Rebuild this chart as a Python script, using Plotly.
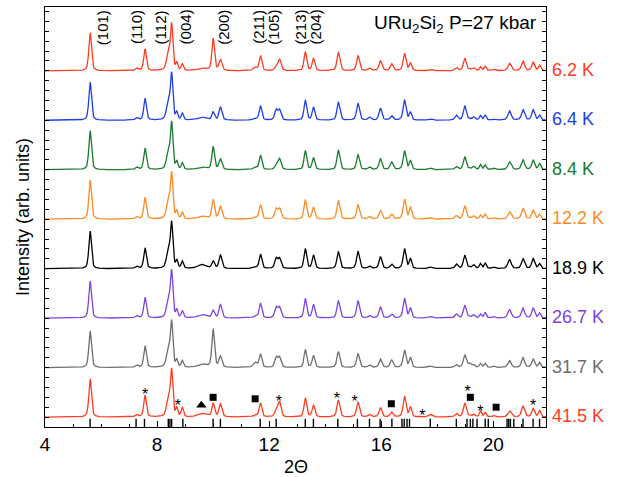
import numpy as np
import plotly.graph_objects as go

# ---- data ----
temps = ["6.2 K", "6.4 K", "8.4 K", "12.2 K", "18.9 K", "26.7 K", "31.7 K", "41.5 K"]
colors = ["#ff3b1f", "#1f3fe6", "#1a7a30", "#ff8a24", "#000000", "#7c44e0", "#6e6e6e", "#ff3b1f"]

# peak positions (2Theta) and widths (FWHM)
peak_pos = [5.61, 7.27, 7.57, 8.40, 8.52, 8.70, 8.90, 9.60, 10.00, 10.26, 11.50, 11.69,
            12.25, 12.37, 13.29, 13.58, 14.47, 15.17, 15.58, 15.97, 16.37, 16.83, 17.04,
            17.75, 18.68, 18.98, 19.15, 19.30, 19.54, 19.71, 20.01, 20.58, 21.06, 21.42, 21.65]
peak_fwhm = [0.11, 0.12, 0.11, 0.14, 0.10, 0.08, 0.09, 0.35, 0.11, 0.12, 0.16, 0.11,
             0.12, 0.12, 0.11, 0.11, 0.12, 0.12, 0.12, 0.12, 0.12, 0.12, 0.10,
             0.16, 0.12, 0.12, 0.14, 0.11, 0.09, 0.09, 0.14, 0.14, 0.13, 0.12, 0.10]

# peak heights for each temperature (same order as peak_pos)
h_6_2K = [0.77, 0.05, 0.44, 0.38, 0.90, 0.15, 0.13, 0.05, 0.65, 0.21, 0.06, 0.30,
          0.08, 0.23, 0.38, 0.25, 0.37, 0.30, 0.05, 0.20, 0.14, 0.35, 0.15,
          0.03, 0.06, 0.25, 0.02, 0.06, 0.08, 0.09, 0.03, 0.15, 0.19, 0.17, 0.11]
h_6_4K = [0.77, 0.05, 0.44, 0.40, 0.90, 0.15, 0.13, 0.06, 0.16, 0.26, 0.03, 0.29,
          0.20, 0.20, 0.40, 0.26, 0.36, 0.34, 0.06, 0.24, 0.09, 0.41, 0.16,
          0.03, 0.10, 0.29, 0.02, 0.06, 0.09, 0.10, 0.02, 0.19, 0.21, 0.21, 0.10]
h_8_4K = [0.79, 0.05, 0.44, 0.38, 0.91, 0.15, 0.13, 0.05, 0.46, 0.21, 0.05, 0.29,
          0.08, 0.22, 0.38, 0.24, 0.39, 0.30, 0.05, 0.22, 0.15, 0.38, 0.18,
          0.03, 0.06, 0.26, 0.02, 0.06, 0.10, 0.09, 0.03, 0.16, 0.20, 0.19, 0.12]
h_12_2K = [0.79, 0.05, 0.44, 0.40, 0.89, 0.15, 0.13, 0.06, 0.39, 0.25, 0.04, 0.29,
           0.20, 0.20, 0.39, 0.24, 0.37, 0.29, 0.05, 0.18, 0.10, 0.40, 0.24,
           0.03, 0.07, 0.27, 0.02, 0.06, 0.08, 0.10, 0.03, 0.15, 0.22, 0.18, 0.10]
h_18_9K = [0.76, 0.05, 0.42, 0.40, 0.89, 0.15, 0.14, 0.08, 0.15, 0.27, 0.03, 0.29,
           0.20, 0.20, 0.40, 0.27, 0.34, 0.35, 0.05, 0.24, 0.09, 0.40, 0.20,
           0.03, 0.09, 0.27, 0.02, 0.07, 0.10, 0.11, 0.03, 0.18, 0.20, 0.20, 0.10]
h_26_7K = [0.75, 0.05, 0.42, 0.40, 0.91, 0.15, 0.14, 0.07, 0.15, 0.27, 0.03, 0.30,
           0.21, 0.21, 0.39, 0.27, 0.35, 0.35, 0.05, 0.22, 0.08, 0.40, 0.20,
           0.03, 0.08, 0.26, 0.02, 0.06, 0.08, 0.11, 0.03, 0.17, 0.20, 0.20, 0.10]
h_31_7K = [0.74, 0.05, 0.44, 0.40, 0.89, 0.14, 0.13, 0.07, 0.77, 0.22, 0.10, 0.27,
           0.20, 0.20, 0.36, 0.24, 0.32, 0.28, 0.05, 0.17, 0.15, 0.35, 0.20,
           0.03, 0.06, 0.25, 0.08, 0.05, 0.08, 0.08, 0.03, 0.14, 0.20, 0.17, 0.10]
h_41_5K = [0.77, 0.05, 0.44, 0.40, 0.91, 0.17, 0.19, 0.07, 0.27, 0.26, 0.04, 0.28,
           0.13, 0.30, 0.38, 0.24, 0.34, 0.30, 0.05, 0.19, 0.10, 0.42, 0.20,
           0.05, 0.07, 0.28, 0.02, 0.05, 0.12, 0.09, 0.03, 0.12, 0.22, 0.17, 0.13]
heights = [h_6_2K, h_6_4K, h_8_4K, h_12_2K, h_18_9K, h_26_7K, h_31_7K, h_41_5K]
offsets = [7, 6, 5, 4, 3, 2, 1, 0]

# calculated reflection positions (tick marks under the lowest pattern)
bragg_pos = [5.61, 7.25, 7.55, 8.40, 8.46, 8.52, 8.92, 10.0, 10.26, 11.68, 12.25, 13.29,
             13.58, 14.45, 15.15, 15.58, 15.96, 16.38, 16.74, 16.82, 16.92, 17.01, 17.75,
             18.68, 19.06, 19.18, 19.27, 19.42, 19.71, 19.82, 20.49, 20.55, 20.61, 20.73,
             21.06, 21.42, 21.65]

# impurity markers on the 41.5 K pattern
star_x = [7.57, 8.74, 12.35, 14.42, 15.05, 17.47, 19.08, 19.54, 21.42]
star_y = [0.49, 0.28, 0.36, 0.41, 0.35, 0.07, 0.56, 0.16, 0.28]
square_x = [10.0, 11.5, 16.36, 19.18, 20.1]
square_y = [0.40, 0.37, 0.27, 0.40, 0.20]
tri_x = [9.58]
tri_y = [0.24]

hkl_labels = ["(101)", "(110)", "(112)", "(004)", "(200)", "(211)", "(105)", "(213)", "(204)"]
hkl_x = [6.03, 7.27, 8.11, 9.0, 10.37, 11.62, 12.15, 13.11, 13.64]

# ---- build figure ----
x = np.linspace(4.0, 21.9, 2400)


def profile(pos, fwhm, hts):
    y = np.zeros_like(x)
    for p, w, h in zip(pos, fwhm, hts):
        d = (x - p) / w
        lor = 1.0 / (1.0 + 4.0 * d ** 2)
        gau = np.exp(-4.0 * np.log(2) * d ** 2)
        y += h * (0.5 * lor + 0.5 * gau)
    return y


fig = go.Figure()
for t, c, h, off in zip(temps, colors, heights, offsets):
    fig.add_trace(go.Scatter(x=x, y=profile(peak_pos, peak_fwhm, h) + off, mode="lines",
                             line=dict(color=c, width=1.3), showlegend=False, hoverinfo="skip"))

bx, by = [], []
for p in bragg_pos:
    bx += [p, p, None]
    by += [-0.035, -0.2, None]
fig.add_trace(go.Scatter(x=bx, y=by, mode="lines", line=dict(color="black", width=1.4),
                         showlegend=False, hoverinfo="skip"))

fig.add_trace(go.Scatter(x=star_x, y=[v - 0.07 for v in star_y], mode="text", text=["*"] * len(star_x),
                         textfont=dict(size=16, color="black", family="Arial"),
                         showlegend=False, hoverinfo="skip"))
fig.add_trace(go.Scatter(x=square_x, y=square_y, mode="markers",
                         marker=dict(symbol="square", size=7, color="black"),
                         showlegend=False, hoverinfo="skip"))
fig.add_trace(go.Scatter(x=tri_x, y=tri_y, mode="markers",
                         marker=dict(symbol="triangle-up", size=9, color="black"),
                         showlegend=False, hoverinfo="skip"))

annotations = []
for lab, hx in zip(hkl_labels, hkl_x):
    annotations.append(dict(x=hx, y=7.88, xref="x", yref="y", text=lab, textangle=-90,
                            showarrow=False, xanchor="center", yanchor="middle",
                            font=dict(size=15, color="black", family="Arial")))
for t, c, off in zip(temps, colors, offsets):
    annotations.append(dict(x=1.008, y=off + 0.02, xref="paper", yref="y", text=t,
                            showarrow=False, xanchor="left", yanchor="middle",
                            font=dict(size=18, color=c, family="Arial")))
annotations.append(dict(x=0.987, y=0.994, xref="paper", yref="paper",
                        text="URu<sub>2</sub>Si<sub>2</sub> P=27 kbar", showarrow=False,
                        xanchor="right", yanchor="top",
                        font=dict(size=19, color="black", family="Arial")))
annotations.append(dict(x=-0.044, y=0.5, xref="paper", yref="paper",
                        text="Intensity (arb. units)", textangle=-90, showarrow=False,
                        xanchor="center", yanchor="middle",
                        font=dict(size=18, color="black", family="Arial")))
annotations.append(dict(x=0.5, y=-0.095, xref="paper", yref="paper", text="2Θ",
                        showarrow=False, xanchor="center", yanchor="middle",
                        font=dict(size=18, color="black", family="Arial")))

fig.update_layout(
    width=621, height=477,
    margin=dict(l=45, r=75, t=7, b=50),
    paper_bgcolor="white", plot_bgcolor="white",
    annotations=annotations,
    font=dict(family="Arial", size=18, color="black"),
)
fig.update_xaxes(range=[4, 21.88], tickvals=[4, 8, 12, 16, 20], ticks="inside", ticklen=6,
                 tickwidth=1, tickcolor="black", showline=True, linecolor="black", linewidth=1.3,
                 mirror=True, showgrid=False, zeroline=False,
                 minor=dict(dtick=1, tick0=4, ticks="inside", ticklen=3, tickcolor="black"),
                 tickfont=dict(size=19, family="Arial"))
fig.update_yaxes(range=[-0.2, 8.29], dtick=0.2, tick0=0, ticks="inside", ticklen=4,
                 tickcolor="black", showticklabels=False, showline=True, linecolor="black",
                 linewidth=1.3, mirror="ticks", showgrid=False, zeroline=False)

fig.write_html("out.html", config={"displayModeBar": False},
               post_script="document.body.style.margin='0px';")
